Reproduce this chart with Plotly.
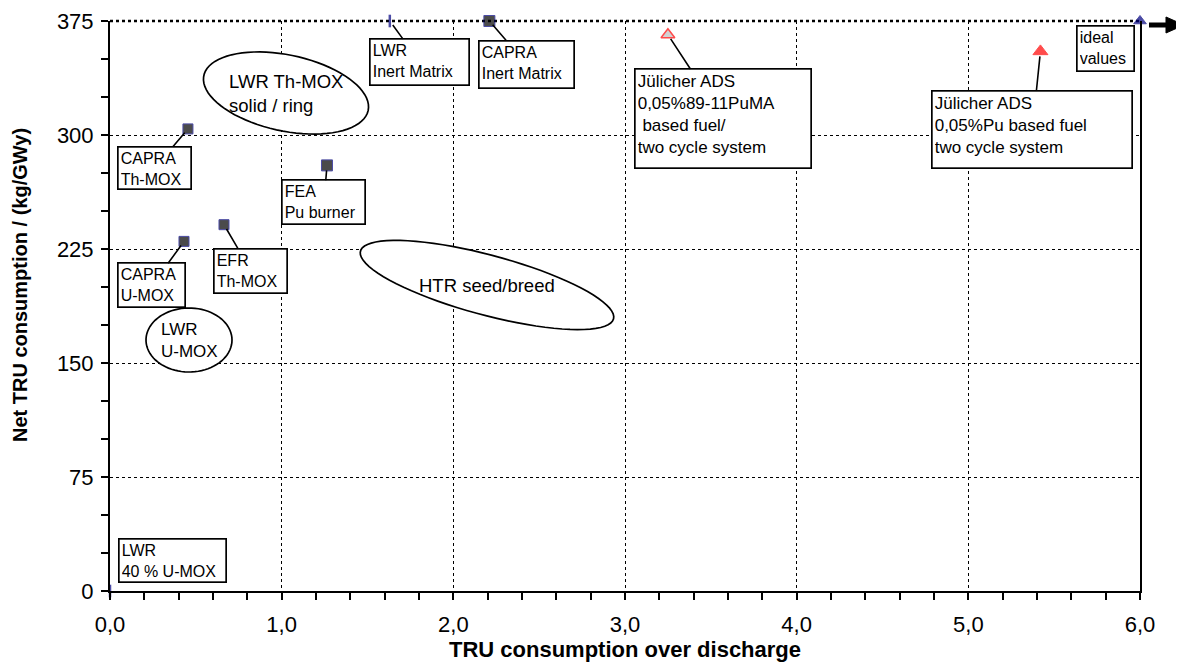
import numpy as np
import plotly.graph_objects as go

# ---------------- data ----------------
labels = ["LWR<br>Inert Matrix", "CAPRA<br>Inert Matrix",
          "Jülicher ADS<br>0,05%89-11PuMA<br> based fuel/<br>two cycle system",
          "Jülicher ADS<br>0,05%Pu based fuel<br>two cycle system",
          "ideal<br>values", "CAPRA<br>Th-MOX", "FEA<br>Pu burner",
          "EFR<br>Th-MOX", "CAPRA<br>U-MOX", "LWR<br>40 % U-MOX"]
tru_ratio = [1.63, 2.21, 3.25, 5.42, 6.0, 0.454, 1.264, 0.664, 0.431, 0.0]
net_tru = [375, 375, 366, 355, 375, 304, 280, 241, 230, 0]

region_labels = ["LWR Th-MOX<br>solid / ring", "LWR<br>U-MOX", "HTR seed/breed"]
x_ticks = [0, 1, 2, 3, 4, 5, 6]
y_ticks = [0, 75, 150, 225, 300, 375]
x_title = "TRU consumption over discharge"
y_title = "Net TRU consumption / (kg/GWy)"

# ---------------- styles ----------------
NAVY = "#000080"
sym = ["line-ns", "square", "triangle-up", "triangle-up", "triangle-up",
       "square", "square", "square", "square", "line-ns"]
fill = [NAVY, "black", "#c0c0c0", "red", NAVY, "black", "black", "black", "black", NAVY]
edge = [NAVY, NAVY, "red", "red", NAVY, NAVY, NAVY, NAVY, NAVY, NAVY]
msize = [9, 11, 12, 13, 11, 10, 11, 10, 10, 9]
mwidth = [2.5, 1, 1.5, 1, 1, 1, 1, 1, 1, 2.5]
# box offsets (px, centre of box relative to point) and box sizes
box_off = [(30, 41), (37, 43), (55, 84), (-8, 78), (-35, 27),
           (-33, 39), (-3, 37), (27, 46), (-32, 44), (62, -31)]
box_size = [(100, 47), (96, 48), (177, 100), (201, 78), (58, 46),
            (74, 43), (84, 45), (74, 45), (68, 45), (108, 44)]
box_font = [16, 16, 17, 17, 16, 16, 16, 16, 16, 16]
show_line = [True, True, True, True, False, True, True, True, True, False]

FONT = "Liberation Sans, Arial, sans-serif"

# page body has 8px margin -> figure px = screen px - 8
OFF = 8
L, T = 102, 13
W, H = 1184, 670
pw, ph = 1030, 570
R = W - L - pw
B = H - T - ph
sx = 6.0 / pw
sy = 375.0 / ph


def scr2data(xp, yp):
    return (xp - OFF - L) * sx, (T + ph - (yp - OFF)) * sy


def scr2paper(xp, yp):
    return (xp - OFF - L) / pw, (T + ph - (yp - OFF)) / ph


fig = go.Figure()
fig.add_trace(go.Scatter(
    x=tru_ratio, y=net_tru, mode="markers", cliponaxis=False,
    marker=dict(symbol=sym, color=fill, size=msize,
                line=dict(color=edge, width=mwidth)),
    hovertext=labels, showlegend=False))

for i, lab in enumerate(labels):
    ax, ay = box_off[i]
    bw, bh = box_size[i]
    fig.add_annotation(
        x=tru_ratio[i], y=net_tru[i], text=lab, showarrow=True,
        ax=ax, ay=ay, arrowhead=0, arrowwidth=1.6,
        arrowcolor="black" if show_line[i] else "rgba(0,0,0,0)",
        standoff=5, align="left", valign="top",
        width=bw - 6, height=bh - 6, borderpad=2,
        bordercolor="black", borderwidth=1.7, bgcolor="white",
        font=dict(family=FONT, size=box_font[i], color="black"))

# ellipses (centre screen px, semi axes px, angle deg) -> drawn in data coordinates
ell = [((286, 93), 84, 38, 12), ((189, 340), 43, 32, 0), ((487, 285), 131, 30, 15)]
ell_font = [18.5, 17, 18.5]
for k, ((cxp, cyp), a, b, ang) in enumerate(ell):
    t = np.linspace(0, 2 * np.pi, 80)
    th = np.deg2rad(ang)
    px = cxp + a * np.cos(t) * np.cos(th) - b * np.sin(t) * np.sin(th)
    py = cyp + a * np.cos(t) * np.sin(th) + b * np.sin(t) * np.cos(th)
    pts = [scr2data(u, v) for u, v in zip(px, py)]
    path = "M " + " L ".join(f"{u:.4f},{v:.4f}" for u, v in pts) + " Z"
    fig.add_shape(type="path", path=path, xref="x", yref="y",
                  line=dict(color="black", width=1.7), fillcolor="white", layer="above")
    cx, cy = scr2data(cxp, cyp)
    fig.add_annotation(x=cx, y=cy, text=region_labels[k],
                       showarrow=False, align="left",
                       font=dict(family=FONT, size=ell_font[k], color="black"))

# arrow at top right, outside plot (paper coordinates)
x0, y0 = scr2paper(1149, 25)
x1, _ = scr2paper(1170, 25)
fig.add_shape(type="line", xref="paper", yref="paper", x0=x0, y0=y0, x1=x1, y1=y0,
              line=dict(color="black", width=5))
hx0, hy0 = scr2paper(1166, 17)
hx1, hy1 = scr2paper(1184, 25)
hx2, hy2 = scr2paper(1166, 33)
fig.add_shape(type="path", xref="paper", yref="paper",
              path=f"M {hx0:.5f},{hy0:.5f} L {hx1:.5f},{hy1:.5f} L {hx2:.5f},{hy2:.5f} Z",
              fillcolor="black", line=dict(color="black", width=1))

# heavy top border (dotted look)
fig.add_shape(type="line", xref="paper", yref="paper", x0=0, x1=1, y0=1, y1=1,
              line=dict(color="black", width=2.5, dash="dot"), layer="below")

# y-axis title as rotated text (placed like the reference)
ytx, yty = scr2paper(20, 285)
fig.add_annotation(x=ytx, y=yty, xref="paper", yref="paper", text=f"<b>{y_title}</b>",
                   textangle=-90, showarrow=False, xanchor="center", yanchor="middle",
                   font=dict(family=FONT, size=20, color="black"))

fig.update_layout(
    width=W, height=H, margin=dict(l=L, r=R, t=T, b=B, autoexpand=False),
    plot_bgcolor="white", paper_bgcolor="white", separators=",.",
    font=dict(family=FONT, color="black"),
    xaxis=dict(range=[0, 6], tickvals=x_ticks, tickformat=".1f", automargin=False,
               showline=True, linecolor="black", linewidth=2,
               ticks="outside", ticklen=7, tickwidth=2, tickcolor="black",
               minor=dict(dtick=0.2, ticks="outside", ticklen=7, tickwidth=2,
                          tickcolor="black", showgrid=False),
               showgrid=True, gridcolor="black", griddash="dot", gridwidth=1.2,
               zeroline=False, tickfont=dict(size=22), ticklabelstandoff=6,
               title=dict(text=f"<b>{x_title}</b>",
                          font=dict(size=22), standoff=4)),
    yaxis=dict(range=[0, 375], tickvals=y_ticks, automargin=False,
               showline=True, linecolor="black", linewidth=2, mirror=True,
               ticks="outside", ticklen=7, tickwidth=2, tickcolor="black",
               minor=dict(dtick=25, ticks="outside", ticklen=7, tickwidth=2,
                          tickcolor="black", showgrid=False),
               showgrid=True, gridcolor="black", griddash="dot", gridwidth=1.2,
               zeroline=False, tickfont=dict(size=22), ticklabelstandoff=3),
)

fig.write_html("out.html")
